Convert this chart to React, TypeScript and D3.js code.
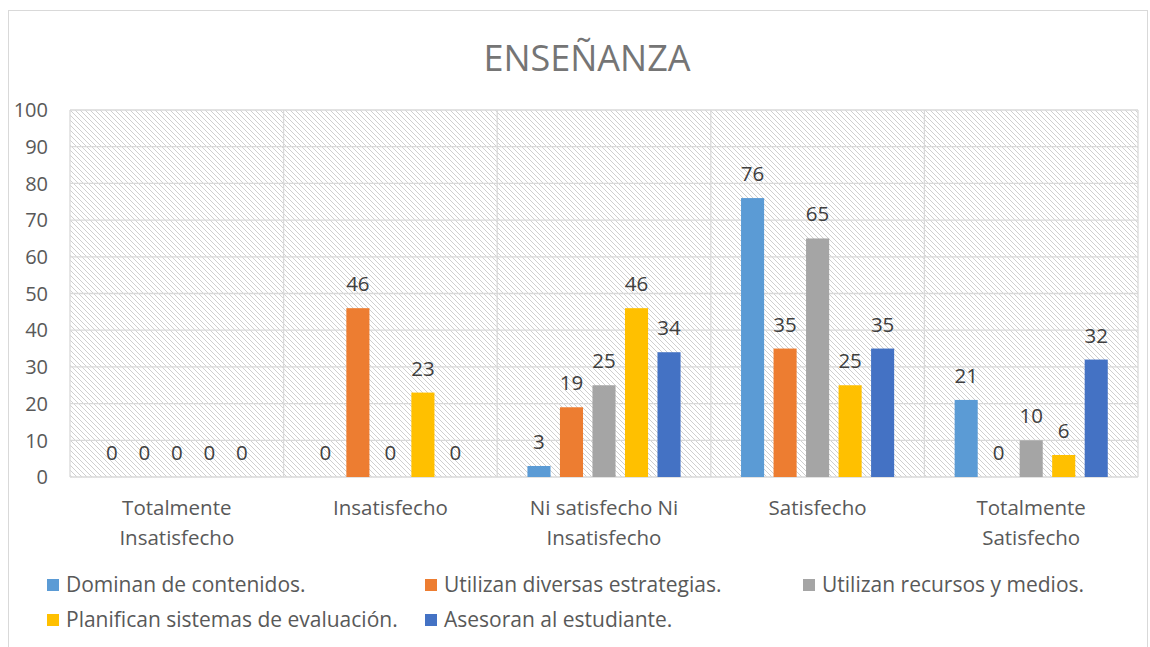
import React from 'react';
import * as d3 from 'd3';

const categories = [
  'Totalmente Insatisfecho',
  'Insatisfecho',
  'Ni satisfecho Ni Insatisfecho',
  'Satisfecho',
  'Totalmente Satisfecho',
];
const seriesNames = [
  'Dominan de contenidos.',
  'Utilizan diversas estrategias.',
  'Utilizan recursos y medios.',
  'Planifican sistemas de evaluación.',
  'Asesoran al estudiante.',
];
const dominan = [0, 0, 3, 76, 21];
const utilizanEstrategias = [0, 46, 19, 35, 0];
const utilizanRecursos = [0, 0, 25, 65, 10];
const planifican = [0, 23, 46, 25, 6];
const asesoran = [0, 0, 34, 35, 32];
const yTicks = [0, 10, 20, 30, 40, 50, 60, 70, 80, 90, 100];

const seriesValues = [dominan, utilizanEstrategias, utilizanRecursos, planifican, asesoran];
const colors = ['#5B9BD5', '#ED7D31', '#A5A5A5', '#FFC000', '#4472C4'];

const W = 1150;
const H = 647;
const plot = { left: 70, right: 1138, top: 110, bottom: 477 };
const font = '"Open Sans", "Liberation Sans", sans-serif';

// greedy word wrap by character count
function wrap(label: string, maxChars = 16) {
  const lines: string[] = [];
  let cur = '';
  label.split(' ').forEach(w => {
    const next = cur ? cur + ' ' + w : w;
    if (next.length > maxChars && cur) {
      lines.push(cur);
      cur = w;
    } else cur = next;
  });
  if (cur) lines.push(cur);
  return lines;
}

const App = () => {
  const x0 = d3.scaleBand().domain(categories).range([plot.left, plot.right]).padding(0);
  const x1 = d3
    .scaleBand()
    .domain(seriesNames)
    .range([0, x0.bandwidth()])
    .paddingInner(0.29)
    .paddingOuter(0.93);
  const y = d3.scaleLinear().domain([0, 100]).range([plot.bottom, plot.top]);

  const legendPos = [
    { x: 47, y: 579 },
    { x: 425, y: 579 },
    { x: 803, y: 579 },
    { x: 47, y: 614 },
    { x: 425, y: 614 },
  ];

  return (
    <svg
      width={W}
      height={H}
      style={{ position: 'absolute', left: 0, top: 0, background: '#fff' }}
      fontFamily={font}
    >
      <defs>
        <pattern id="hatch" patternUnits="userSpaceOnUse" width={5} height={5}>
          <rect width={5} height={5} fill="#fff" />
          <path d="M-1,-1 L6,6 M-1,4 L1,6 M4,-1 L6,1" stroke="#cfcfcf" strokeWidth={1} />
        </pattern>
      </defs>

      <rect x={8.5} y={10.5} width={1139} height={660} fill="#fff" stroke="#d9d9d9" />

      <text x={587} y={71} textAnchor="middle" fontSize={36} fill="#757575">
        ENSEÑANZA
      </text>

      <rect
        x={plot.left}
        y={plot.top}
        width={plot.right - plot.left}
        height={plot.bottom - plot.top}
        fill="url(#hatch)"
      />

      {yTicks.map(t => (
        <g key={t}>
          <line x1={plot.left} x2={plot.right} y1={y(t)} y2={y(t)} stroke="#d9d9d9" strokeWidth={1.3} />
          <text x={48} y={y(t)} dy="0.36em" textAnchor="end" fontSize={20} fill="#595959">
            {t}
          </text>
        </g>
      ))}

      {[...categories.map(c => x0(c)!), plot.right].map((xv, i) => (
        <line key={i} x1={xv} x2={xv} y1={plot.top} y2={plot.bottom} stroke="#d9d9d9" strokeWidth={1.3} />
      ))}

      {categories.map((c, ci) => (
        <g key={c} transform={`translate(${x0(c)},0)`}>
          {seriesNames.map((s, si) => {
            const v = seriesValues[si][ci];
            const bx = x1(s)!;
            return (
              <g key={s}>
                <rect x={bx} y={y(v)} width={x1.bandwidth()} height={y(0) - y(v)} fill={colors[si]} />
                <text
                  x={bx + x1.bandwidth() / 2}
                  y={y(v) - 17}
                  textAnchor="middle"
                  fontSize={20.5}
                  fill="#404040"
                >
                  {v}
                </text>
              </g>
            );
          })}
          {wrap(c).map((line, li) => (
            <text
              key={li}
              x={x0.bandwidth() / 2}
              y={515 + li * 30}
              textAnchor="middle"
              fontSize={20.5}
              fill="#595959"
            >
              {line}
            </text>
          ))}
        </g>
      ))}

      {seriesNames.map((s, i) => (
        <g key={s} transform={`translate(${legendPos[i].x},${legendPos[i].y})`}>
          <rect width={12} height={12} fill={colors[i]} />
          <text x={19} y={12.5} fontSize={21} fill="#595959">
            {s}
          </text>
        </g>
      ))}
    </svg>
  );
};

export default App;
